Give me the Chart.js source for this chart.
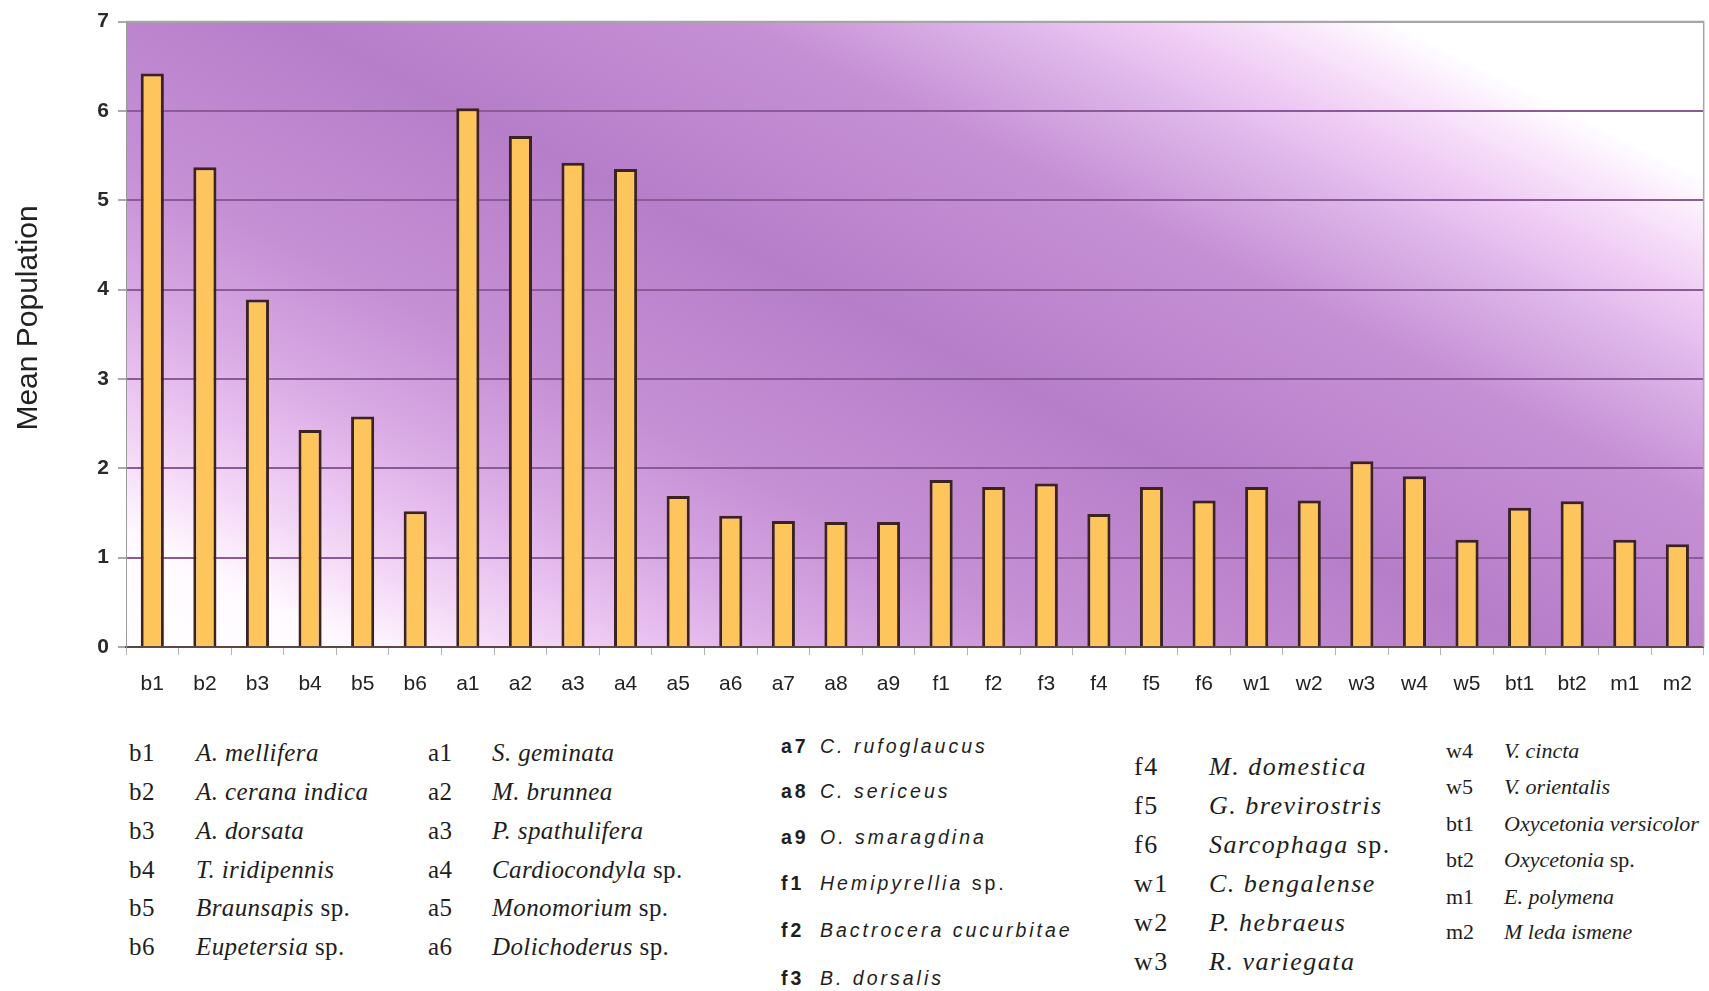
<!DOCTYPE html>
<html>
<head>
<meta charset="utf-8">
<title>Mean Population</title>
<script src="https://cdn.jsdelivr.net/npm/chart.js@4.4.1/dist/chart.umd.min.js"></script>
<style>
    body { margin: 0; background: #fff; width: 1709px; height: 991px; position: relative; overflow: hidden; }
    #wrap { position: absolute; left: 0; top: 0; width: 1709px; height: 720px; }
    .key { position: absolute; white-space: nowrap; color: #1e1e1e; }
    .key i { font-style: italic; }
</style>
</head>
<body>
<div id="wrap"><canvas id="chart"></canvas></div>
<div id="legend"></div>
<script>
    // codes on the x axis
    const codes = ['b1','b2','b3','b4','b5','b6','a1','a2','a3','a4','a5','a6','a7','a8','a9',
                   'f1','f2','f3','f4','f5','f6','w1','w2','w3','w4','w5','bt1','bt2','m1','m2']
    // mean population per code
    const meanPop = [6.42, 5.37, 3.89, 2.43, 2.58, 1.52, 6.03, 5.72, 5.42, 5.35, 1.69, 1.47, 1.41, 1.40, 1.40,
                     1.87, 1.79, 1.83, 1.49, 1.79, 1.64, 1.79, 1.64, 2.08, 1.91, 1.20, 1.56, 1.63, 1.20, 1.15]
    const species = ['A. mellifera','A. cerana indica','A. dorsata','T. iridipennis','Braunsapis sp.','Eupetersia sp.',
                     'S. geminata','M. brunnea','P. spathulifera','Cardiocondyla sp.','Monomorium sp.','Dolichoderus sp.',
                     'C. rufoglaucus','C. sericeus','O. smaragdina','Hemipyrellia sp.','Bactrocera cucurbitae','B. dorsalis',
                     'M. domestica','G. brevirostris','Sarcophaga sp.','C. bengalense','P. hebraeus','R. variegata',
                     'V. cincta','V. orientalis','Oxycetonia versicolor','Oxycetonia sp.','E. polymena','M leda ismene']
    const yTicks = [0, 1, 2, 3, 4, 5, 6, 7]
    const yTitle = 'Mean Population'

    const sans = "'Liberation Sans', Arial, sans-serif"
    const serif = "'Liberation Serif', 'Times New Roman', serif"

    // purple band from top-left to bottom-right, fading to white at the other two corners
    const background = {
        id: 'background',
        beforeDraw(chart) {
            const {ctx, chartArea: a} = chart
            const w = a.right - a.left, h = a.bottom - a.top
            const slope = 0.5
            const n = Math.sqrt(1 + slope * slope)
            const ux = slope / n, uy = -1 / n
            const ext = (slope * w / 2 + h / 2) / n
            const cx = (a.left + a.right) / 2, cy = (a.top + a.bottom) / 2
            const g = ctx.createLinearGradient(cx - ext * ux, cy - ext * uy, cx + ext * ux, cy + ext * uy)
            g.addColorStop(0, '#ffffff')
            g.addColorStop(0.08, '#fffaff')
            g.addColorStop(0.13, '#f6def8')
            g.addColorStop(0.19, '#e9c2f0')
            g.addColorStop(0.26, '#d6a6e2')
            g.addColorStop(0.34, '#c690d5')
            g.addColorStop(0.5, '#b67ec9')
            g.addColorStop(0.66, '#c690d5')
            g.addColorStop(0.75, '#deb6ea')
            g.addColorStop(0.8, '#efcbf4')
            g.addColorStop(0.85, '#f9e6fb')
            g.addColorStop(0.89, '#ffffff')
            g.addColorStop(1, '#ffffff')
            ctx.save()
            ctx.fillStyle = g
            ctx.fillRect(a.left, a.top, w, h)
            ctx.restore()
        },
        beforeDatasetsDraw(chart) {
            const {ctx, chartArea: a} = chart
            ctx.save()
            ctx.strokeStyle = '#a9a3aa'
            ctx.lineWidth = 1.5
            ctx.beginPath()
            ctx.moveTo(a.left, a.top)
            ctx.lineTo(a.right, a.top)
            ctx.lineTo(a.right, a.bottom)
            ctx.stroke()
            ctx.restore()
        },
        afterDraw(chart) {
            // y axis title, a little above the middle of the plot
            const {ctx} = chart
            ctx.save()
            ctx.translate(29, 318)
            ctx.rotate(-Math.PI / 2)
            ctx.font = '30px ' + sans
            ctx.fillStyle = '#222'
            ctx.textAlign = 'center'
            ctx.textBaseline = 'middle'
            ctx.fillText(yTitle, 0, 0)
            ctx.restore()
        }
    }

    new Chart(document.getElementById('chart'), {
        type: 'bar',
        data: {
            labels: codes,
            datasets: [{
                data: meanPop,
                backgroundColor: '#fec55c',
                borderColor: '#3b2320',
                borderWidth: 3,
                barPercentage: 0.44,
                categoryPercentage: 1
            }]
        },
        options: {
            responsive: true,
            maintainAspectRatio: false,
            animation: false,
            layout: {padding: {top: 18, right: 2, left: 0, bottom: 0}},
            plugins: {legend: {display: false}, tooltip: {enabled: false}},
            scales: {
                x: {
                    grid: {drawOnChartArea: false, tickLength: 8, color: '#b5b5b5'},
                    border: {color: '#5e4646', width: 2},
                    ticks: {padding: 17, color: '#222', font: {family: sans, size: 21}},
                    afterFit: s => { s.height = 73 }
                },
                y: {
                    min: yTicks[0],
                    max: yTicks[yTicks.length - 1],
                    afterBuildTicks: s => { s.ticks = yTicks.map(v => ({value: v})) },
                    grid: {
                        color: c => c.tick && c.tick.value === 7 ? '#a9a3aa' : '#8b5a98',
                        lineWidth: 2,
                        tickLength: 8,
                        tickColor: '#aaaaaa'
                    },
                    border: {color: '#9a9a9a', width: 1},
                    ticks: {padding: 9, color: '#2a2a2a', font: {family: sans, size: 21, weight: 'bold'}},
                    afterFit: s => { s.width = 126 }
                }
            }
        },
        plugins: [background]
    })

    // key below the chart, five columns of six entries
    const columns = [
        {codeX: 129, nameX: 196, rows: [753, 792, 831, 870, 908, 947], family: serif, size: 25, spacing: 0.4, bold: false},
        {codeX: 428, nameX: 492, rows: [753, 792, 831, 870, 908, 947], family: serif, size: 25, spacing: 0.4, bold: false},
        {codeX: 781, nameX: 820, rows: [746, 791, 837, 883, 930, 978], family: sans, size: 19.5, spacing: 3, bold: true},
        {codeX: 1134, nameX: 1209, rows: [766, 805, 844, 883, 922, 961], family: serif, size: 26, spacing: 1.5, bold: false},
        {codeX: 1446, nameX: 1504, rows: [751, 787, 824, 860, 897, 932], family: serif, size: 22, spacing: 0, bold: false}
    ]
    const legend = document.getElementById('legend')
    function nameHtml(name) {
        if (name.endsWith(' sp.')) return '<i>' + name.slice(0, -4) + '</i> sp.'
        return '<i>' + name + '</i>'
    }
    columns.forEach((col, ci) => {
        col.rows.forEach((cy, ri) => {
            const idx = ci * 6 + ri
            const lh = Math.round(col.size * 1.2)
            const style = 'top:' + (cy - lh / 2) + 'px;line-height:' + lh + 'px;font-family:' + col.family +
                ';font-size:' + col.size + 'px;letter-spacing:' + col.spacing + 'px;'
            const code = document.createElement('div')
            code.className = 'key'
            code.style.cssText = style + 'left:' + col.codeX + 'px;font-weight:' + (col.bold ? 'bold' : 'normal')
            code.textContent = codes[idx]
            legend.appendChild(code)
            const nm = document.createElement('div')
            nm.className = 'key'
            nm.style.cssText = style + 'left:' + col.nameX + 'px'
            nm.innerHTML = nameHtml(species[idx])
            legend.appendChild(nm)
        })
    })
</script>
</body>
</html>
